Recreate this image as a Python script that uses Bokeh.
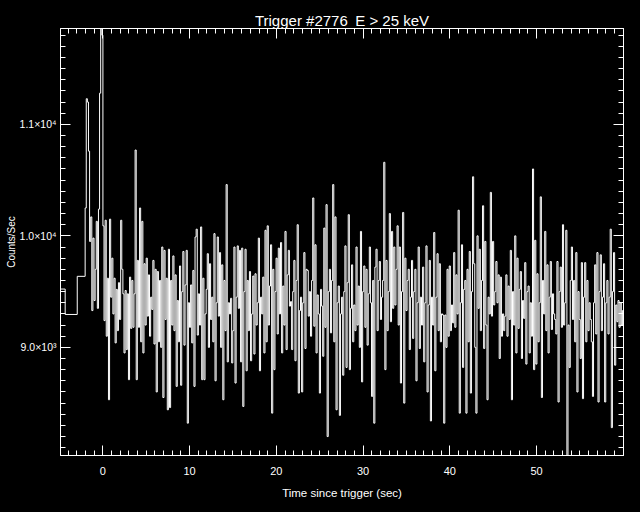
from bokeh.plotting import figure
from bokeh.models import Range1d, FixedTicker, LinearAxis
from bokeh.embed import file_html
from bokeh.resources import INLINE

# ---------------- data ----------------
title_text = "Trigger #2776\u2002E > 25 keV"
x_label = "Time since trigger (sec)"
y_label = "Counts/Sec"

x_major_ticks = [0, 10, 20, 30, 40, 50]
x_minor_ticks = list(range(-4, 61))
y_major_ticks = [9000, 10000, 11000]
y_major_labels = ["9.0\u00d710\u00b3", "1.0\u00d710\u2074", "1.1\u00d710\u2074"]
y_minor_ticks = list(range(8100, 11900, 100))

x_limits = [-4.89, 60.03]
y_limits = [8030, 11860]

# coarse pre-trigger bins (edges, counts)
pre_edges = [-5.12, -4.35, -2.96, -2.048]
pre_counts = [9523, 9295, 9637]

# fine-resolution bins after -2.048 s
fine_start = -2.048
fine_width = 0.128
fine_counts = [
    10250, 11230, 11200, 10760, 9950, 10170, 9330, 9980, 9420, 9700,
    10130, 9350, 10240, 11280, 12400, 11800, 10090, 9240, 10140, 9100,
    9620, 8530, 10150, 9450, 9800, 9300, 9620, 9040, 9520, 9150,
    9580, 9250, 10140, 9700, 9480, 8950, 9510, 8980, 9480, 8710,
    9630, 9170, 9600, 9180, 9480, 10770, 8710, 9780, 9180, 10250,
    9050, 10130, 8950, 9750, 9200, 9800, 9280, 9650, 9100, 9450,
    9340, 9780, 9030, 9700, 8600, 9680, 9050, 9600, 9000, 9900,
    8550, 9870, 9250, 9620, 8440, 9880, 8460, 9600, 9200, 9820,
    9150, 9650, 8650, 9420, 9050,
    9730, 8660, 9500, 9860, 9020, 9560, 9870, 8320, 9400, 9180,
    9560, 9040, 9690, 8650, 9990, 10060, 9110, 9480, 9200, 10080,
    8710, 9620, 8710, 9300, 9520, 9840, 9000, 9750, 9250, 9450,
    9050, 10020, 8700, 9400, 9990, 9280, 9850, 9000, 9740, 8530,
    9600, 9150, 10460, 8870, 9400, 9300, 9440, 8860, 9150, 9900,
    8680, 9450, 9910, 9350, 9870, 8870, 9890, 8470, 9500, 9880,
    8790, 9600, 9150, 9680, 8880, 9300, 9640, 8940, 9660, 9200,
    9400, 9980, 8790, 9450, 9300, 9630, 8950, 10050, 9050, 10090,
    9200, 9550, 9920, 8410, 9700, 8800, 9500,
    9800, 9120, 9890, 9300, 9940, 8950, 9550, 9200, 10040, 8980,
    9650, 9870, 9370, 9410, 8980, 9500, 9780, 8880, 9600, 10100,
    8590, 9330, 9450, 8600, 9400, 9850, 8990, 9700, 9690, 9280,
    9500, 9100, 9600, 10340, 9190, 9920, 8950, 9470, 9300, 8590,
    9520, 9370, 8920, 10070, 9180, 10280, 8200, 9500, 9700, 9130,
    9600, 10460, 9050, 10170, 8440, 9400, 9550, 8390, 9300, 9450,
    8750, 9500, 9910, 8820, 9580, 10190, 8800, 9350, 9740, 9050,
    9380, 9150, 9900, 9200, 9550, 9000, 10040, 8690, 9500, 9730,
    9180, 9700, 9020, 9480, 9900, 9400,
    8560, 9600, 8320, 9720, 9880, 9150, 9600, 9770, 9250, 9450,
    9600, 10660, 8800, 9780, 9150, 9500, 10200, 9230, 10040, 9350,
    9900, 9380, 9700, 10090, 9200, 9900, 8680, 9500, 10210, 8500,
    9800, 9330, 9600, 9700, 8980, 9450, 9780, 9080, 9500, 9700,
    8700, 9400, 9900, 8990, 9450, 9200, 9720, 8870, 9400, 9910,
    8600, 9380, 9780, 8340, 9450, 9200, 10030, 8790, 9450, 9840,
    9150, 9750, 9050, 9300, 9290, 8320, 9290, 9000, 9700, 9100,
    9730, 9150, 9380, 9220, 9850, 9180, 9650, 9300, 10230, 8410,
    9400, 9920, 8820, 9520, 9600, 8410,
    9700, 9050, 9860, 8590, 9500, 10530, 9750, 9000, 8410, 10000,
    9350, 9880, 9150, 9600, 10270, 8990, 9950, 9200, 8530, 9450,
    9300, 10390, 9280, 9950, 9380, 9500, 9770, 9400, 9650, 8900,
    9630, 9100, 9300, 9150, 9280, 9650, 9100, 9550, 9250, 9870,
    8530, 9500, 9200, 10000, 8950, 9800, 9170, 9520, 9680, 8900,
    9420, 9260, 9760, 8850, 9500, 9550, 8950, 9400, 9100, 10600,
    8800, 9960, 8850, 9660, 9050, 9400, 10350, 8550, 9600, 9300,
    10040, 9150, 9740, 8950, 9450, 9770, 9160, 9480, 9300, 9250,
    9120, 9770, 8510, 9500, 9720, 9180,
    10100, 9200, 9400, 10050, 7850, 9200, 8820, 9600, 9900, 9250,
    9600, 9050, 9850, 8600, 9500, 9250, 8900, 9760, 8540, 9450,
    9760, 9050, 9600, 9150, 9400, 9250, 9050, 8560, 9400, 9740,
    9120, 9850, 8510, 9500, 9830, 9150, 9450, 9750, 8510, 9400,
    9600, 9120, 9450, 10060, 8280, 9500, 9850, 8840, 9380, 9230,
    9420, 9180, 9400, 9200, 9330, 9250,
]

# ---------------- build step series ----------------
xs = list(pre_edges[:-1]) + [fine_start + i * fine_width for i in range(len(fine_counts) + 1)]
ys = list(pre_counts) + list(fine_counts) + [fine_counts[-1]]

FONT = "Liberation Sans"
WHITE = "#ffffff"

p = figure(width=640, height=512, output_backend="svg", toolbar_location=None,
           x_range=Range1d(*x_limits), y_range=Range1d(*y_limits),
           min_border_left=60, min_border_right=17, min_border_top=28, min_border_bottom=57,
           x_axis_type=None, y_axis_type=None)
p.background_fill_color = "black"
p.border_fill_color = "black"
p.outline_line_color = WHITE
p.grid.visible = False

p.title.text = title_text
p.title.text_color = WHITE
p.title.text_font = FONT
p.title.text_font_size = "15px"
p.title.text_font_style = "normal"
p.title.align = "center"
p.title.standoff = 0
p.title.offset = 0


def make_axis(ticks, minor, overrides=None):
    ax = LinearAxis(ticker=FixedTicker(ticks=ticks, minor_ticks=minor))
    ax.axis_line_color = WHITE
    ax.major_tick_line_color = WHITE
    ax.minor_tick_line_color = WHITE
    ax.major_tick_in = 10
    ax.major_tick_out = 0
    ax.minor_tick_in = 5
    ax.minor_tick_out = 0
    ax.major_label_text_color = WHITE
    ax.major_label_text_font = FONT
    ax.major_label_text_font_size = "11px"
    ax.axis_label_text_color = WHITE
    ax.axis_label_text_font = FONT
    ax.axis_label_text_font_size = "11px"
    ax.axis_label_text_font_style = "normal"
    if overrides:
        ax.major_label_overrides = overrides
    return ax


xb = make_axis(x_major_ticks, x_minor_ticks)
xb.axis_label = x_label
xb.axis_label_text_font_size = "11.5px"
xb.major_label_standoff = 11
xb.axis_label_standoff = 9
p.add_layout(xb, "below")

yl = make_axis(y_major_ticks, y_minor_ticks,
               overrides={t: s for t, s in zip(y_major_ticks, y_major_labels)})
yl.axis_label = y_label
yl.major_label_standoff = 4
yl.axis_label_standoff = 0
yl.major_label_text_font_size = "10.5px"
yl.axis_label_text_font_size = "10px"
p.add_layout(yl, "left")

xt = make_axis(x_major_ticks, x_minor_ticks, overrides={t: "" for t in x_major_ticks})
xt.major_label_standoff = 0
p.add_layout(xt, "above")
yr = make_axis(y_major_ticks, y_minor_ticks, overrides={t: "" for t in y_major_ticks})
yr.major_label_standoff = 0
p.add_layout(yr, "right")

p.step(x=xs, y=ys, mode="after", line_color=WHITE, line_width=1)

html = file_html(p, INLINE)
html = html.replace("<head>", "<head><style>html,body{background:#000000;}</style>", 1)
open("out.html", "w").write(html)
